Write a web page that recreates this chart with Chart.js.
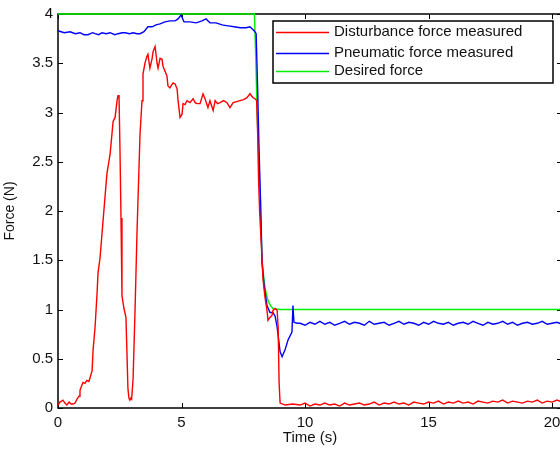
<!DOCTYPE html>
<html>
<head>
<meta charset="utf-8">
<script src="https://cdn.jsdelivr.net/npm/chart.js@4.4.1/dist/chart.umd.min.js"></script>
<style>
  html, body { margin: 0; padding: 0; background: #fff; overflow: hidden; }
  #wrap { width: 560px; height: 450px; overflow: hidden; }
</style>
</head>
<body>
<div id="wrap"><canvas id="forceChart" width="570" height="450"></canvas></div>
<script>
// values: [time (s), force (N)]
const seriesNames = ['Disturbance force measured', 'Pneumatic force measured', 'Desired force'];
const seriesColors = ['#ff0000', '#0000ff', '#00f000'];

const disturbance = [[0,0.03],[0.08,0.06],[0.2,0.08],[0.28,0.05],[0.36,0.03],[0.45,0.06],[0.53,0.04],[0.61,0.04],[0.69,0.05],[0.77,0.09],
  [0.85,0.12],[0.89,0.18],[0.95,0.22],[1.01,0.26],[1.09,0.25],[1.17,0.28],[1.25,0.27],[1.30,0.31],[1.38,0.38],[1.42,0.59],
  [1.50,0.82],[1.58,1.16],[1.62,1.37],[1.70,1.52],[1.82,1.89],[1.98,2.38],[2.11,2.58],[2.23,2.91],[2.31,2.95],[2.39,3.12],
  [2.43,3.17],[2.47,3.17],[2.51,2.6],[2.55,1.93],[2.59,1.14],[2.67,1.01],[2.75,0.92],[2.79,0.57],[2.83,0.2],[2.87,0.1],
  [2.91,0.08],[2.95,0.1],[2.98,0.09],[3.04,0.3],[3.12,1.01],[3.2,1.8],[3.32,2.78],[3.40,3.12],[3.44,3.39],[3.52,3.5],
  [3.6,3.57],[3.64,3.59],[3.72,3.45],[3.81,3.55],[3.85,3.62],[3.93,3.67],[4.01,3.5],[4.05,3.45],[4.13,3.55],[4.21,3.54],
  [4.25,3.47],[4.33,3.42],[4.41,3.37],[4.45,3.27],[4.53,3.25],[4.6,3.28],[4.66,3.30],[4.74,3.29],[4.82,3.24],[4.86,3.12],
  [4.94,2.95],[5.02,2.98],[5.06,3.09],[5.14,3.08],[5.22,3.12],[5.34,3.10],[5.47,3.14],[5.55,3.1],[5.63,3.09],[5.75,3.09],
  [5.87,3.19],[5.95,3.14],[6.07,3.05],[6.15,3.12],[6.28,3.02],[6.36,3.12],[6.46,3.09],[6.56,3.10],[6.70,3.12],[6.84,3.10],
  [6.96,3.05],[7.09,3.10],[7.23,3.11],[7.37,3.12],[7.51,3.13],[7.65,3.15],[7.77,3.19],[7.89,3.15],[7.98,3.14],[8.04,3.12],
  [8.08,2.8],[8.12,2.3],[8.16,2.0],[8.22,1.7],[8.26,1.5],[8.30,1.3],[8.38,1.12],[8.46,0.99],[8.50,0.89],[8.58,0.92],
  [8.66,0.94],[8.70,0.99],[8.79,1.01],[8.87,0.99],[8.91,0.82],[8.95,0.25],[8.99,0.05],[9.2,0.03],[9.5,0.04]];

const pneumatic = [[0,3.83],[0.25,3.81],[0.49,3.82],[0.7,3.80],[0.89,3.81],[1.05,3.79],[1.21,3.79],[1.4,3.81],[1.5,3.80],[1.65,3.79],
  [1.78,3.81],[1.95,3.80],[2.11,3.81],[2.3,3.79],[2.43,3.80],[2.6,3.81],[2.71,3.81],[2.9,3.80],[3.04,3.81],[3.2,3.80],
  [3.32,3.80],[3.48,3.82],[3.64,3.87],[3.81,3.87],[3.97,3.89],[4.13,3.90],[4.33,3.92],[4.53,3.93],[4.74,3.93],[4.86,3.95],
  [4.98,3.99],[5.10,3.92],[5.34,3.92],[5.59,3.91],[5.83,3.93],[5.99,3.95],[6.15,3.91],[6.40,3.91],[6.64,3.89],[6.88,3.88],
  [7.13,3.87],[7.37,3.86],[7.61,3.86],[7.77,3.87],[7.94,3.83],[8.02,3.80],[8.08,3.24],[8.14,2.6],[8.20,2.1],[8.26,1.47],
  [8.34,1.25],[8.46,1.04],[8.58,0.97],[8.70,0.97],[8.79,0.93],[8.87,0.82],[8.99,0.57],[9.07,0.52],[9.19,0.59],[9.31,0.69],
  [9.47,0.77],[9.51,1.04],[9.55,0.87],[9.68,0.86]];

const desired = [[0,4],[7.95,4],[8.0,3.6],[8.05,3.1],[8.1,2.7],[8.18,2.1],[8.26,1.5],[8.34,1.3],[8.4,1.19],[8.5,1.09],
  [8.6,1.04],[8.7,1.01],[9,1.0],[20.4,1.0]];

// steady-state part after the step
const tailTime = [9.8,10.0,10.2,10.4,10.6,10.8,11.0,11.2,11.4,11.6,11.8,12.0,12.2,12.4,12.6,12.8,13.0,13.2,13.4,13.6,
  13.8,14.0,14.2,14.4,14.6,14.8,15.0,15.2,15.4,15.6,15.8,16.0,16.2,16.4,16.6,16.8,17.0,17.2,17.4,17.6,
  17.8,18.0,18.2,18.4,18.6,18.8,19.0,19.2,19.4,19.6,19.8,20.0,20.2,20.4];
const disturbanceTail = [0.03,0.05,0.02,0.04,0.03,0.05,0.03,0.04,0.02,0.05,
  0.03,0.04,0.05,0.03,0.04,0.06,0.03,0.05,0.04,0.06,
  0.04,0.05,0.03,0.06,0.05,0.04,0.06,0.05,0.07,0.04,
  0.06,0.05,0.07,0.05,0.06,0.04,0.07,0.06,0.05,0.07,
  0.06,0.08,0.05,0.07,0.06,0.05,0.07,0.06,0.08,0.05,
  0.07,0.06,0.08,0.06];
const pneumaticTail = [0.86,0.84,0.87,0.85,0.88,0.85,0.87,0.84,0.86,0.88,
  0.85,0.87,0.86,0.84,0.88,0.85,0.86,0.87,0.84,0.86,
  0.88,0.85,0.87,0.86,0.84,0.87,0.85,0.88,0.86,0.85,
  0.87,0.84,0.86,0.87,0.85,0.88,0.86,0.84,0.87,0.85,
  0.86,0.88,0.85,0.87,0.84,0.86,0.87,0.85,0.86,0.88,
  0.85,0.86,0.87,0.85];

const xTicks = [0, 5, 10, 15, 20];
const yTicks = [0, 0.5, 1, 1.5, 2, 2.5, 3, 3.5, 4];

function toPoints(head, tail) {
  const pts = head.map(p => ({ x: p[0], y: p[1] }));
  if (tail) tailTime.forEach((t, i) => pts.push({ x: t, y: tail[i] }));
  return pts;
}

// MATLAB style box with inward ticks + legend
const matlabFrame = {
  id: 'matlabFrame',
  beforeDatasetsDraw(chart) {
    const { ctx, chartArea: a, scales } = chart;
    ctx.save();
    ctx.strokeStyle = '#000';
    ctx.lineWidth = 1.5;
    ctx.strokeRect(a.left, a.top, a.right - a.left, a.bottom - a.top);
    ctx.lineWidth = 1;
    ctx.beginPath();
    xTicks.forEach(v => {
      const px = Math.round(scales.x.getPixelForValue(v)) + 0.5;
      ctx.moveTo(px, a.bottom); ctx.lineTo(px, a.bottom - 5);
      ctx.moveTo(px, a.top); ctx.lineTo(px, a.top + 5);
    });
    yTicks.forEach(v => {
      const py = Math.round(scales.y.getPixelForValue(v)) + 0.5;
      ctx.moveTo(a.left, py); ctx.lineTo(a.left + 5, py);
      ctx.moveTo(a.right, py); ctx.lineTo(a.right - 5, py);
    });
    ctx.stroke();
    ctx.restore();
  },
  afterDatasetsDraw(chart) {
    const { ctx, chartArea: a } = chart;
    const bx = a.right - 289, by = a.top + 7, bw = 280, bh = 62;
    ctx.save();
    ctx.fillStyle = '#fff';
    ctx.fillRect(bx, by, bw, bh);
    ctx.strokeStyle = '#000';
    ctx.lineWidth = 1.5;
    ctx.strokeRect(bx, by, bw, bh);
    const rows = [by + 11, by + 32, by + 50];
    ctx.font = '15px "Liberation Sans", Arial, sans-serif';
    ctx.textBaseline = 'middle';
    chart.data.datasets.forEach((ds, i) => {
      ctx.strokeStyle = ds.borderColor;
      ctx.lineWidth = 1.4;
      ctx.beginPath();
      ctx.moveTo(bx + 3, rows[i] + 0.5);
      ctx.lineTo(bx + 56, rows[i] + 0.5);
      ctx.stroke();
      ctx.fillStyle = '#111';
      ctx.fillText(ds.label, bx + 61, rows[i]);
    });
    ctx.restore();
  }
};

const ctx = document.getElementById('forceChart');
new Chart(ctx, {
  type: 'line',
  data: {
    datasets: [
      { label: seriesNames[0], data: toPoints(disturbance, disturbanceTail), borderColor: seriesColors[0] },
      { label: seriesNames[1], data: toPoints(pneumatic, pneumaticTail), borderColor: seriesColors[1] },
      { label: seriesNames[2], data: toPoints(desired), borderColor: seriesColors[2] }
    ]
  },
  options: {
    responsive: false,
    animation: false,
    layout: { padding: { top: 13, right: 8, left: 0, bottom: 0 } },
    elements: {
      line: { borderWidth: 1.4, tension: 0 },
      point: { radius: 0 }
    },
    datasets: { line: { clip: 3 } },
    plugins: { legend: { display: false }, tooltip: { enabled: false } },
    scales: {
      x: {
        type: 'linear', min: 0, max: 20.4,
        afterBuildTicks: s => { s.ticks = xTicks.map(v => ({ value: v })); },
        afterFit: s => { s.height = 42; },
        grid: { display: false, drawTicks: false },
        border: { display: false },
        ticks: { color: '#111', padding: 6, maxRotation: 0, font: { family: '"Liberation Sans", Arial, sans-serif', size: 15 }, callback: v => String(v) },
        title: { display: true, text: 'Time (s)', color: '#111', padding: { top: 0, bottom: 3 }, font: { family: '"Liberation Sans", Arial, sans-serif', size: 15 } }
      },
      y: {
        min: 0, max: 4,
        afterBuildTicks: s => { s.ticks = yTicks.map(v => ({ value: v })); },
        afterFit: s => { s.width = 58; },
        grid: { display: false, drawTicks: false },
        border: { display: false },
        ticks: { color: '#111', padding: 5, font: { family: '"Liberation Sans", Arial, sans-serif', size: 15 }, callback: v => String(v) },
        title: { display: true, text: 'Force (N)', color: '#111', padding: { top: 2, bottom: 0 }, font: { family: '"Liberation Sans", Arial, sans-serif', size: 14 } }
      }
    }
  },
  plugins: [matlabFrame]
});
</script>
</body>
</html>
